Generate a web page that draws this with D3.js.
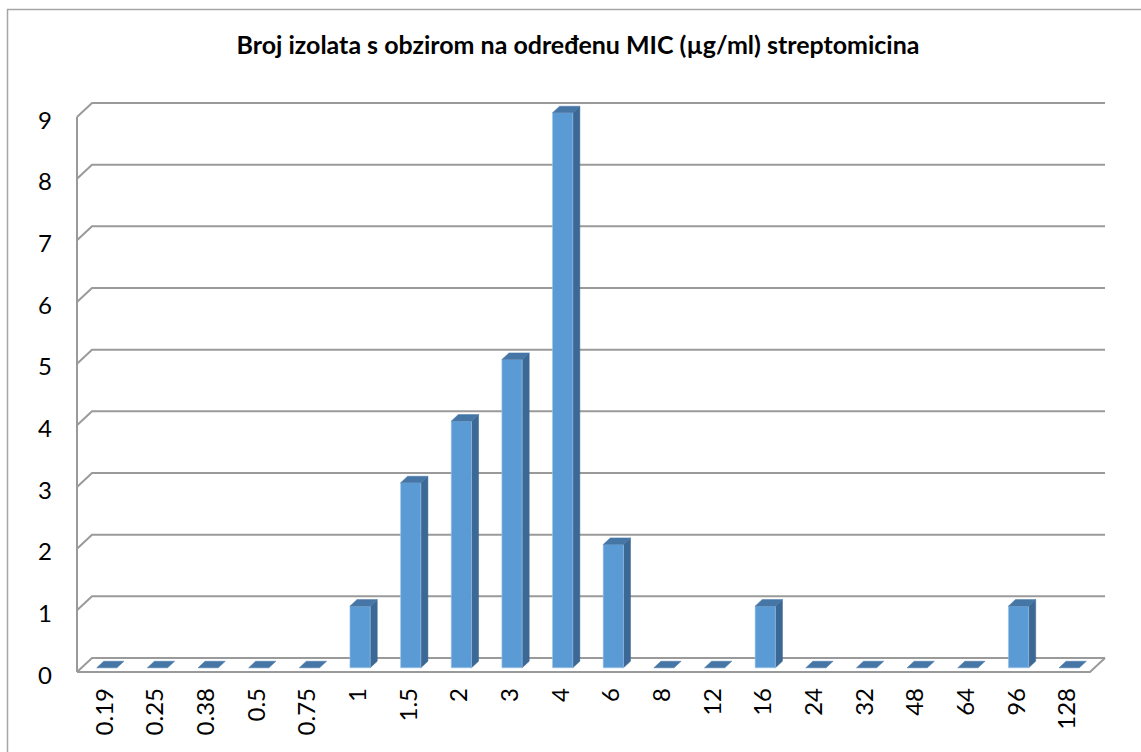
<!DOCTYPE html>
<html>
<head>
<meta charset="utf-8">
<script src="https://cdn.jsdelivr.net/npm/d3@7"></script>
<style>
  html, body { margin: 0; padding: 0; background: #fff; }
  svg { display: block; }
</style>
</head>
<body>
<svg id="chart" width="1141" height="752"></svg>
<script>
const titleText = "Broj izolata s obzirom na određenu MIC (µg/ml) streptomicina";
const categories = ["0.19","0.25","0.38","0.5","0.75","1","1.5","2","3","4","6","8","12","16","24","32","48","64","96","128"];
const counts = [0,0,0,0,0,1,3,4,5,9,2,0,0,1,0,0,0,0,1,0];
const yTicks = [0,1,2,3,4,5,6,7,8,9];

const svg = d3.select("#chart");
const FONT = "Lato, 'Open Sans', sans-serif";

// chart border
svg.append("rect")
  .attr("x", 7.5).attr("y", 9.5)
  .attr("width", 1145).attr("height", 760)
  .attr("fill", "#fff").attr("stroke", "#A6A6A6").attr("stroke-width", 1.5);

// title
const title = svg.append("text")
  .attr("x", 578).attr("y", 54)
  .attr("text-anchor", "middle")
  .attr("font-family", FONT)
  .attr("font-weight", "bold")
  .attr("font-size", 19)
  .attr("fill", "#000")
  .text(titleText);
const tw = title.node().getComputedTextLength();
title.attr("font-size", 19 * 683 / tw);

// scales (front plane)
const x = d3.scaleBand().domain(categories).range([77, 1090]).paddingInner(0).paddingOuter(0);
const y = d3.scaleLinear().domain([0, 9]).range([672, 117]);
const DX = 15, DY = -14; // depth vector (front -> back)
const P = (xv, v, d) => [xv + DX * d, y(v) + DY * d];

const grid = svg.append("g").attr("fill", "none").attr("stroke", "#9A9A9A").attr("stroke-width", 2);
const x0 = x.range()[0], x1 = x.range()[1];

// back wall gridlines + side-wall diagonals
yTicks.forEach(t => {
  const a = P(x0, t, 0), b = P(x0, t, 1), c = P(x1, t, 1);
  grid.append("path").attr("d", d3.line()([a, b, c]));
});
// left front edge
grid.append("path").attr("d", d3.line()([P(x0, 9, 0), P(x0, 0, 0)]));
// floor front edge and right edge
grid.append("path").attr("d", d3.line()([P(x0, 0, 0), P(x1, 0, 0), P(x1, 0, 1)]));

// bars
const f1 = 0.3, f2 = 0.77;
const bw = x.bandwidth() * 0.4;
const bars = svg.append("g");
categories.forEach((c, i) => {
  const v = counts[i];
  const xl = x(c) + (x.bandwidth() - bw) / 2, xr = xl + bw;
  const g = bars.append("g");
  if (v > 0) {
    g.append("path")
      .attr("d", d3.line()([P(xr, 0, f1), P(xr, v, f1), P(xr, v, f2), P(xr, 0, f2)]) + "Z")
      .attr("fill", "#3B6894").attr("stroke", "#3B6894").attr("stroke-width", 0.5);
    g.append("path")
      .attr("d", d3.line()([P(xl, 0, f1), P(xl, v, f1), P(xr, v, f1), P(xr, 0, f1)]) + "Z")
      .attr("fill", "#5B9BD5").attr("stroke", "#9CC3E6").attr("stroke-width", 0.6);
  }
  g.append("path")
    .attr("d", d3.line()([P(xl, v, f1), P(xr, v, f1), P(xr, v, f2), P(xl, v, f2)]) + "Z")
    .attr("fill", "#4676A6").attr("stroke", "#4676A6").attr("stroke-width", 0.5);
});

// y labels
svg.append("g").selectAll("text").data(yTicks).join("text")
  .attr("x", 52).attr("y", d => y(d) + 2)
  .attr("text-anchor", "end")
  .attr("dominant-baseline", "central")
  .attr("font-family", FONT).attr("font-size", 24).attr("fill", "#000")
  .text(d => d);

// x labels (rotated)
svg.append("g").selectAll("text").data(categories).join("text")
  .attr("transform", d => `translate(${x(d) + x.bandwidth() / 2 + 1},688) rotate(-90)`)
  .attr("text-anchor", "end")
  .attr("dominant-baseline", "central")
  .attr("font-family", FONT).attr("font-size", 24).attr("fill", "#000")
  .text(d => d);
</script>
</body>
</html>
